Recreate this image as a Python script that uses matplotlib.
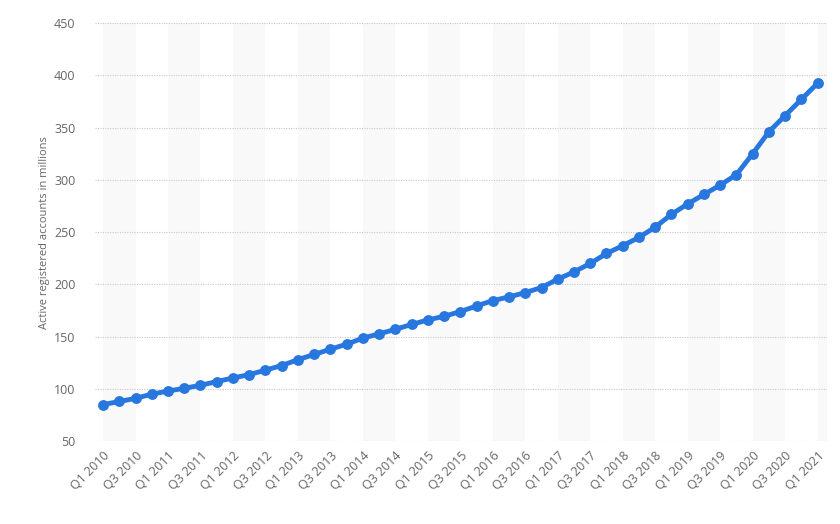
import matplotlib.pyplot as plt

plt.rcParams['font.family'] = ['Open Sans', 'DejaVu Sans']

# quarters Q1 2010 .. Q1 2021
quarters = [f"Q{q} {y}" for y in range(2010, 2022) for q in range(1, 5)][:45]
accounts = [85, 88, 91, 95, 98, 100.6, 103.5, 107, 110.5, 113.7,
            118, 122.4, 128, 133, 138, 142.8, 148.6, 152.7, 157, 161.7,
            166, 169.5, 174, 179.4, 184.5, 188, 192.2, 197, 205, 212,
            220, 229.6, 237, 245, 254.8, 267, 277, 286, 295, 305,
            325, 346, 361.5, 377, 392.5]
y_ticks = [50, 100, 150, 200, 250, 300, 350, 400, 450]

fig = plt.figure(figsize=(8.4, 5.24), dpi=100)
ax = fig.add_axes([0.113, 0.158, 0.871, 0.798])

x = list(range(len(quarters)))

# alternating light bands, two quarters wide
for start in range(0, len(quarters), 4):
    ax.axvspan(start, start + 2, color='#f9f9f9', zorder=0, lw=0)

ax.plot(x, accounts, color='#2777de', lw=3.5, marker='o', markersize=6.8,
        solid_capstyle='round', zorder=3)

ax.set_xlim(-0.5, 44.55)
ax.set_ylim(50, 450)
ax.set_yticks(y_ticks)
ax.yaxis.grid(True, linestyle=(0, (1, 1.2)), color='#c8c8c8', lw=0.8)
ax.set_axisbelow(True)
for s in ax.spines.values():
    s.set_visible(False)

ax.set_xticks(x[::2])
ax.set_xticklabels(quarters[::2], rotation=45, ha='right', va='top',
                   rotation_mode='anchor')
ax.tick_params(axis='both', length=0, colors='#666666', labelsize=9)
ax.tick_params(axis='x', pad=6)
ax.tick_params(axis='y', pad=14)

ax.set_ylabel('Active registered accounts in millions', color='#666666',
              fontsize=8, labelpad=3)

fig.savefig('out.png', dpi=100)
